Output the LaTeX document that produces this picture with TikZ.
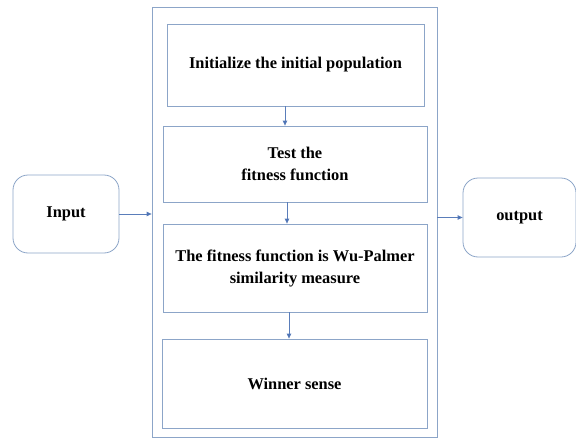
\documentclass[tikz,border=0pt]{standalone}
\usepackage{fontspec}
\setmainfont{Liberation Serif}
\usetikzlibrary{arrows.meta}
\definecolor{edgec}{RGB}{140,165,200}
\definecolor{arrc}{RGB}{68,108,180}
\begin{document}
\begin{tikzpicture}[x=1pt,y=-1pt,
  boxst/.style={draw=edgec, line width=0.8pt, fill=white, inner sep=0pt, font=\fontsize{16.4}{22}\selectfont\bfseries, align=center},
  arr/.style={draw=arrc!70!edgec, line width=0.8pt, -{Triangle[length=5pt,width=4.5pt,fill=arrc]}}]
\useasboundingbox (0,0) rectangle (576,439);
\node[boxst, minimum width=285pt, minimum height=430pt] (outer) at (294.5,222) {};
\node[boxst, minimum width=257pt, minimum height=82pt] (b1) at (295.5,65) {Initialize the initial population};
\node[boxst, minimum width=264pt, minimum height=76pt] (b2) at (295,164) {Test the\\fitness function};
\node[boxst, minimum width=264pt, minimum height=88pt] (b3) at (295,268) {The fitness function is Wu-Palmer\\similarity measure};
\node[boxst, minimum width=265pt, minimum height=89pt] (b4) at (294.5,383.5) {Winner sense};
\node[boxst, rounded corners=15pt, minimum width=106pt, minimum height=78pt] (in) at (66,214) {Input};
\node[boxst, rounded corners=15pt, minimum width=113pt, minimum height=79pt] (out) at (519.5,217.5) {output};
\draw[arr] (b1.south -| 285,0) -- (b2.north -| 285,0);
\draw[arr] (b2.south -| 287,0) -- (b3.north -| 287,0);
\draw[arr] (b3.south -| 289,0) -- (b4.north -| 289,0);
\draw[arr] (in.east) -- (in.east -| outer.west);
\draw[arr] (out.west -| outer.east) -- (out.west);
\end{tikzpicture}
\end{document}
